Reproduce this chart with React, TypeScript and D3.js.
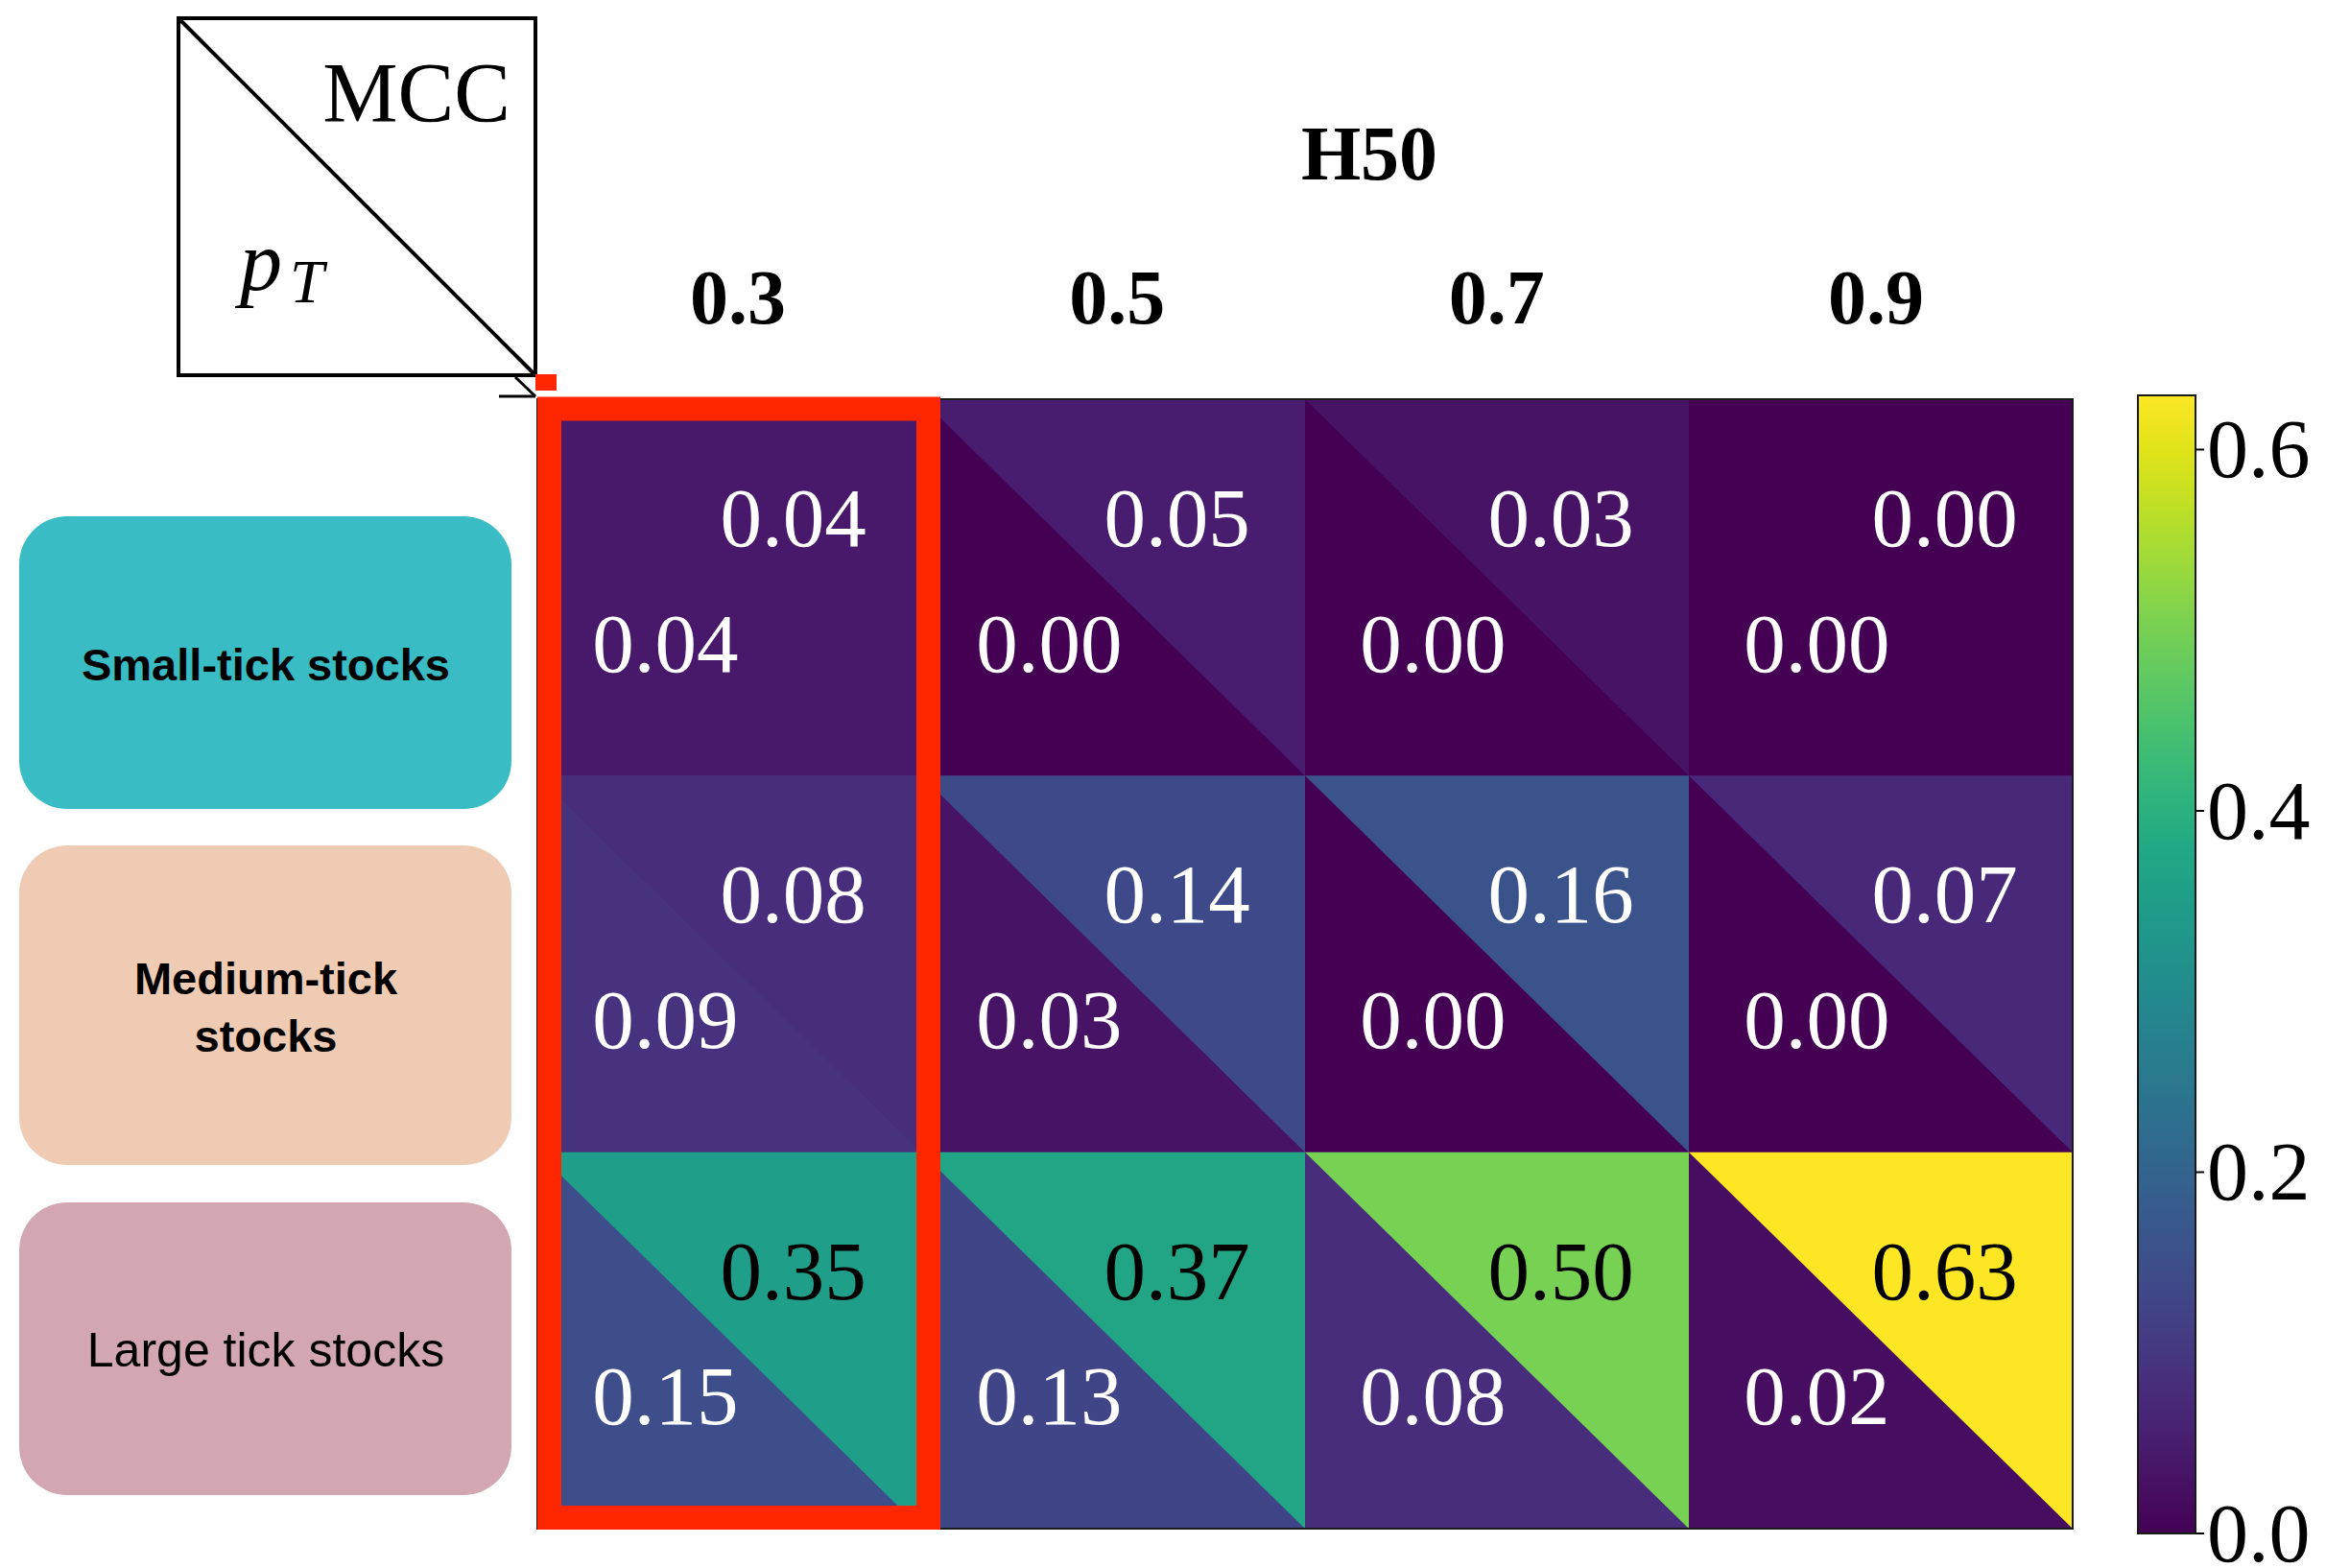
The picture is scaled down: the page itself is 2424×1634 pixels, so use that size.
import React from "react";
import * as d3 from "d3";

// H50 thresholds (columns) and tick-size groups (rows)
const h50Labels = ["0.3", "0.5", "0.7", "0.9"];
const groups = ["Small-tick stocks", "Medium-tick stocks", "Large tick stocks"];
const groupLines = [["Small-tick stocks"], ["Medium-tick", "stocks"], ["Large tick stocks"]];
const groupColors = ["#39bcc4", "#f0cbb3", "#d3a7b1"];
const groupBold = [true, true, false];

// Upper-right triangle: MCC; lower-left triangle: p_T
const mccValues = [
  [0.04, 0.05, 0.03, 0.0],
  [0.08, 0.14, 0.16, 0.07],
  [0.35, 0.37, 0.5, 0.63],
];
const ptValues = [
  [0.04, 0.0, 0.0, 0.0],
  [0.09, 0.03, 0.0, 0.0],
  [0.15, 0.13, 0.08, 0.02],
];
const colorbarTicks = [0, 0.2, 0.4, 0.6];

const W = 2424;
const H = 1634;
const serif = "'Liberation Serif', 'Times New Roman', serif";
const sans = "'Liberation Sans', Arial, Helvetica, sans-serif";

export default function App() {
  const vmax = d3.max([...mccValues.flat(), ...ptValues.flat()]) as number;
  const color = d3.scaleSequential(d3.interpolateViridis).domain([0, vmax]);

  const x = d3.scaleBand<string>().domain(h50Labels).range([560, 2160]);
  const y = d3.scaleBand<string>().domain(groups).range([416, 1593]);
  const header = d3.scalePoint<string>().domain(h50Labels).range([769, 1955]);
  const bw = x.bandwidth();
  const bh = y.bandwidth();

  const cbX = 2228;
  const cbW = 60;
  const cbY = d3.scaleLinear().domain([0, vmax]).range([1598, 412]);
  const gradStops = d3.range(0, 1.0001, 0.05);

  const textColor = (v: number) => (v > vmax / 2 ? "#000" : "#fff");
  const fmt = d3.format(".2f");
  const line = d3.line();

  return (
    <svg
      width={W}
      height={H}
      style={{ position: "absolute", left: 0, top: 0, background: "#fff" }}
    >
      <defs>
        <linearGradient id="viridisBar" x1="0" y1="1" x2="0" y2="0">
          {gradStops.map((t) => (
            <stop key={t} offset={t} stopColor={color(t * vmax)} />
          ))}
        </linearGradient>
      </defs>

      {/* corner key: MCC above the diagonal, p_T below */}
      <rect x={186} y={19} width={372} height={372} fill="none" stroke="#000" strokeWidth={4} />
      <path d={line([[186, 19], [558, 391]]) as string} stroke="#000" strokeWidth={4} />
      <path d={line([[537, 393], [558, 413]]) as string} stroke="#000" strokeWidth={3} />
      <path d={line([[520, 413], [558, 413]]) as string} stroke="#000" strokeWidth={3} />
      <rect x={558} y={390} width={22} height={17} fill="#ff2600" />
      <text x={532} y={126} textAnchor="end" fontFamily={serif} fontSize={88}>
        MCC
      </text>
      <text x={250} y={302} fontFamily={serif} fontStyle="italic" fontSize={88}>
        p
      </text>
      <text x={302} y={315} fontFamily={serif} fontStyle="italic" fontSize={64}>
        T
      </text>

      {/* column header */}
      <text x={1427} y={187} textAnchor="middle" fontFamily={serif} fontWeight="bold" fontSize={80}>
        H50
      </text>
      {h50Labels.map((l) => (
        <text
          key={l}
          x={header(l) as number}
          y={337}
          textAnchor="middle"
          fontFamily={serif}
          fontWeight="bold"
          fontSize={80}
        >
          {l}
        </text>
      ))}

      {/* row group labels */}
      {groups.map((g, i) => {
        const boxes = [
          [538, 305],
          [881, 333],
          [1253, 305],
        ];
        const [by, bhh] = boxes[i];
        const lines = groupLines[i];
        const cy = by + bhh / 2;
        const gap = 60;
        return (
          <g key={g}>
            <rect x={20} y={by} width={513} height={bhh} rx={50} ry={50} fill={groupColors[i]} />
            {lines.map((ln, k) => (
              <text
                key={ln}
                x={277}
                y={cy + 18 + (k - (lines.length - 1) / 2) * gap}
                textAnchor="middle"
                fontFamily={sans}
                fontWeight={groupBold[i] ? "bold" : "normal"}
                fontSize={groupBold[i] ? 47 : 50}
                fill="#000"
              >
                {ln}
              </text>
            ))}
          </g>
        );
      })}

      {/* split-cell heatmap */}
      {groups.map((g, i) =>
        h50Labels.map((l, j) => {
          const x0 = x(l) as number;
          const y0 = y(g) as number;
          const x1 = x0 + bw;
          const y1 = y0 + bh;
          const up = mccValues[i][j];
          const lo = ptValues[i][j];
          return (
            <g key={`${g}-${l}`}>
              <rect x={x0} y={y0} width={bw + 0.5} height={bh + 0.5} fill={color(lo)} />
              <path
                d={(line([[x0, y0], [x1 + 0.5, y0], [x1 + 0.5, y1 + 0.5]]) as string) + "Z"}
                fill={color(up)}
              />
              <text
                x={x0 + (bw * 2) / 3}
                y={y0 + bh * 0.39}
                textAnchor="middle"
                fontFamily={serif}
                fontSize={87}
                fill={textColor(up)}
              >
                {fmt(up)}
              </text>
              <text
                x={x0 + bw / 3}
                y={y0 + bh * 0.723}
                textAnchor="middle"
                fontFamily={serif}
                fontSize={87}
                fill={textColor(lo)}
              >
                {fmt(lo)}
              </text>
            </g>
          );
        })
      )}
      <rect x={560} y={416} width={1600} height={1177} fill="none" stroke="#1a1a1a" strokeWidth={2} />

      {/* highlighted first column */}
      <rect
        x={572.5}
        y={426}
        width={395}
        height={1155.5}
        fill="none"
        stroke="#ff2600"
        strokeWidth={25}
      />

      {/* colorbar */}
      <rect
        x={cbX}
        y={cbY(vmax)}
        width={cbW}
        height={cbY(0) - cbY(vmax)}
        fill="url(#viridisBar)"
        stroke="#1a1a1a"
        strokeWidth={2}
      />
      {colorbarTicks.map((t) => (
        <g key={t}>
          <line x1={cbX + cbW} x2={cbX + cbW + 9} y1={cbY(t)} y2={cbY(t)} stroke="#000" strokeWidth={2} />
          <text
            x={cbX + cbW + 12}
            y={cbY(t) + 29}
            fontFamily={serif}
            fontSize={86}
            fill="#000"
          >
            {d3.format(".1f")(t)}
          </text>
        </g>
      ))}
    </svg>
  );
}
